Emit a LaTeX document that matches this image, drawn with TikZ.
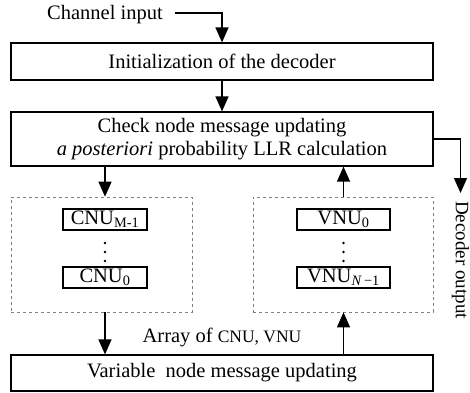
\documentclass[tikz,border=0pt]{standalone}
\usepackage{fontspec}
\setmainfont{Liberation Serif}
\usetikzlibrary{arrows.meta, positioning}

\begin{document}
\begin{tikzpicture}[x=1pt, y=-1pt,
    txt/.style={font=\fontsize{20.5}{23}\selectfont},
    box/.style={txt, draw, line width=1.2pt, minimum width=422pt, inner sep=0pt},
    unitbox/.style={txt, draw, line width=1.2pt, minimum height=21pt, inner sep=0pt},
    arraybox/.style={draw=gray, dashed, line width=0.7pt, minimum height=115pt, inner sep=0pt},
    arr/.style={line width=1.3pt, -{Triangle[length=15pt,width=13pt]}}]
\useasboundingbox (0,0) rectangle (470,392);

% Main decoder steps
\node[txt] (chin) at (105,15) {Channel input};
\node[box, minimum height=37pt] (init) at (222,61.5) {Initialization of the decoder};
\node[box, minimum height=54pt, align=center] (check) at (222,139)
    {Check node message updating\\\textit{a posteriori} probability LLR calculation};
\node[box, minimum height=36pt] (var) at (222,373) {Variable~ node message updating};

% Arrays of processing units
\node[arraybox, minimum width=181pt] (cnuarr) at (101.5,254.5) {};
\node[unitbox, minimum width=84pt] (cnuA) at (105,219.5) {CNU\textsubscript{M-1}};
\node[unitbox, minimum width=84pt] (cnuB) at (105,277.5) {CNU\textsubscript{0}};

\node[arraybox, minimum width=180pt] (vnuarr) at (343,254.5) {};
\node[unitbox, minimum width=93pt] (vnuA) at (343.5,219.5) {VNU\textsubscript{0}};
\node[unitbox, minimum width=93pt] (vnuB) at (343.5,277.5) {VNU\textsubscript{\textit{N}\,−1}};

% vertical dots between units
\foreach \d in {-9,0,9} {
    \fill (105,252+\d) circle (1.4pt);
    \fill (343.5,252+\d) circle (1.4pt);
}

\node[txt] (arrlbl) at (222,337) {Array of {\fontsize{17.5}{20}\selectfont CNU, VNU}};
\node[font=\fontsize{19}{22}\selectfont, rotate=-90, anchor=west, inner sep=8pt]
    (decout) at (460.5,193) {Decoder output};

% Data flow
\draw[arr] ([xshift=9pt,yshift=2pt]chin.east) -| (init.north);
\draw[arr] (init) -- (check);
\draw[arr] (check.south -| cnuA) -- (cnuarr.north -| cnuA);
\draw[arr] (cnuarr.south -| cnuB) -- (var.north -| cnuB);
\draw[arr] (var.north -| vnuB) -- (vnuarr.south -| vnuB);
\draw[arr] (vnuarr.north -| vnuA) -- (check.south -| vnuA);
\draw[arr] (check.east) -| (decout.west);
\end{tikzpicture}
\end{document}
